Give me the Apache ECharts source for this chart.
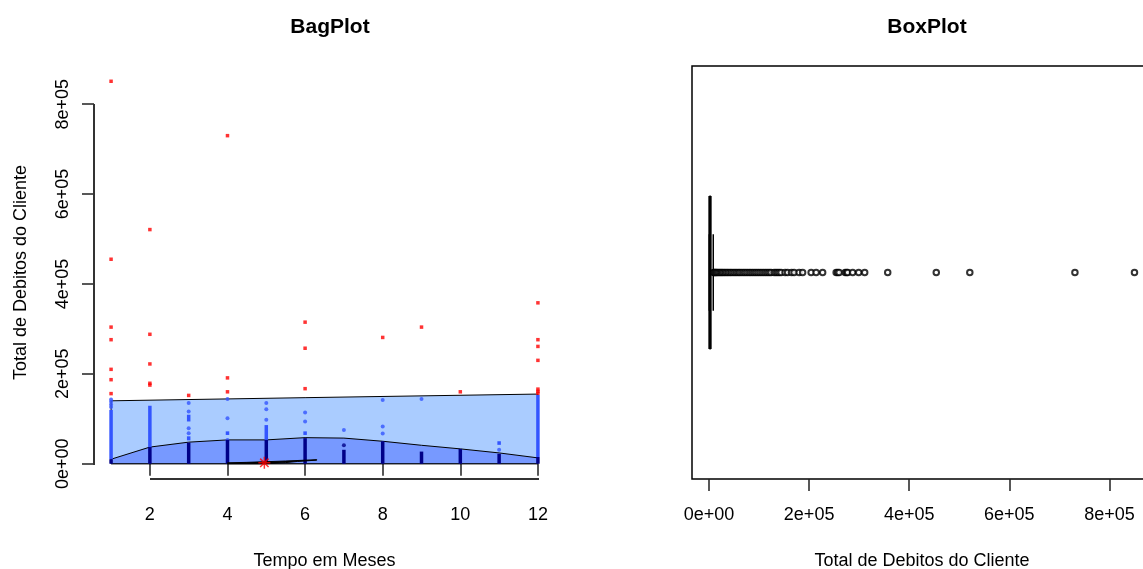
<!DOCTYPE html>
<html><head><meta charset="utf-8">
<script src="https://cdn.jsdelivr.net/npm/echarts@6/dist/echarts.min.js"></script>
<style>html,body{margin:0;padding:0;background:#fff}#c{width:1143px;height:569px}</style>
</head><body><div id="c"></div>
<script>
// ---------- data ----------
const monthTicks = [2, 4, 6, 8, 10, 12];
const debitTicks = [0, 200000, 400000, 600000, 800000];

// BagPlot: loop hull, bag hull (x = month, y = debit)
const loopHull = [[1, 0], [1, 140000], [6, 147000], [12, 155000], [12, 0]];
const bagHull = [[1, 0], [1, 10000], [2, 37000], [3, 48000], [4, 53000], [5, 53000], [6, 58000],
  [7, 57000], [8, 50000], [9, 41000], [10, 33000], [11, 24000], [12, 13000], [12, 0]];
const centerRegion = [[4, 0], [4, 2000], [4.5, 3000], [5.5, 6000], [6.3, 9000], [6.3, 8000],
  [5.8, 5000], [5.5, 2500], [5.0, 0]];
const medianPoint = [[4.95, 2000]];

// dense runs of points [month, from, to]
const loopRuns = [[1, 10000, 120000], [2, 37000, 129000], [3, 94000, 109000], [3, 52000, 61000],
  [4, 64000, 72000], [5, 53000, 86000], [6, 64000, 72000], [11, 42000, 50000], [12, 15000, 153000]];
const loopDots = [[1, 126000], [1, 132000], [1, 138000], [1, 143000], [3, 135000], [3, 116000],
  [3, 79000], [3, 68000], [4, 144000], [4, 101000], [4, 53000], [5, 135000], [5, 121000], [5, 98000],
  [6, 114000], [6, 94000], [7, 75000], [8, 142000], [8, 83000], [8, 67000], [9, 144000], [11, 31000]];
const bagRuns = [[1, 0, 10000], [2, 0, 37000], [3, 0, 47000], [4, 0, 53000], [5, 0, 53000],
  [6, 0, 57000], [7, 0, 31000], [8, 0, 50000], [9, 0, 27000], [10, 0, 33000], [11, 0, 22000], [12, 0, 15000]];
const bagDots = [[7, 41000]];
const outliersBag = [[1, 851000], [1, 455000], [1, 304000], [1, 276000], [1, 210000], [1, 187000], [1, 156000],
  [2, 521000], [2, 288000], [2, 222000], [2, 179000], [2, 175000], [3, 152000],
  [4, 730000], [4, 191000], [4, 160000], [6, 315000], [6, 257000], [6, 167000],
  [8, 281000], [9, 304000], [10, 160000],
  [12, 358000], [12, 276000], [12, 261000], [12, 230000], [12, 166000], [12, 161000], [12, 157000]];

// BoxPlot: [min, q1, median, q3, upper whisker]
const boxStats = [0, 600, 1800, 3800, 8500];
const boxOutliers = [9200, 10500, 12100, 13800, 15600, 17900, 20300, 22800, 25100, 27600, 30400, 33200,
  36100, 39000, 42300, 45200, 48800, 52100, 55400, 58900, 62000, 65700, 69300, 72800, 76400, 80100,
  83500, 87200, 91000, 94600, 98300, 102000, 105800, 109500, 113200, 117000, 120600, 124000,
  130000, 133500, 137000, 140500, 144000, 152000, 157000, 165000, 170000, 180000, 187000,
  204000, 214000, 227000, 254000, 257000, 260000, 272000, 275000, 277000, 287000, 299000, 311000,
  357000, 454000, 521000, 731000, 850000];

// ---------- chart ----------
const FONT = "'Liberation Sans', Arial, sans-serif";
const X0_MIN = 0.56, X0_MAX = 12.44, Y_MIN = -34000, Y_MAX = 885000;
const fmtSci = v => v === 0 ? '0e+00' : Math.round(v / 1e5) + 'e+05';
const axisTxt = { fontFamily: FONT, fontSize: 18, color: '#000' };

function polygonSeries(points, fill, z) {
  return {
    type: 'custom', xAxisIndex: 0, yAxisIndex: 0, z: z, silent: true, data: [points[0]],
    renderItem: (p, api) => ({
      type: 'polygon', shape: { points: points.map(pt => api.coord(pt)) },
      style: { fill: fill, stroke: '#000', lineWidth: 1 }
    })
  };
}
function runSeries(runs, color, z) {
  return {
    type: 'custom', xAxisIndex: 0, yAxisIndex: 0, z: z, silent: true, data: runs,
    renderItem: (p, api) => {
      const a = api.coord([api.value(0), api.value(1)]);
      const b = api.coord([api.value(0), api.value(2)]);
      return { type: 'line', shape: { x1: a[0], y1: a[1], x2: b[0], y2: b[1] },
        style: { stroke: color, lineWidth: 3.5 } };
    }
  };
}
function dotSeries(pts, color, z) {
  return { type: 'scatter', xAxisIndex: 0, yAxisIndex: 0, z: z, silent: true, data: pts,
    symbol: 'circle', symbolSize: 4, itemStyle: { color: color } };
}
// R-style axis lines spanning only the tick range, drawn as thin filled rects
const axisSegs = [
  [[monthTicks[0], Y_MIN], [monthTicks[monthTicks.length - 1], Y_MIN]],
  [[X0_MIN, debitTicks[0]], [X0_MIN, debitTicks[debitTicks.length - 1]]]
];
const axisLinesSeries = {
  type: 'custom', xAxisIndex: 0, yAxisIndex: 0, z: 20, silent: true, clip: false, data: [[2, 0]],
  renderItem: (p, api) => ({
    type: 'group',
    children: axisSegs.map(seg => {
      const a = api.coord(seg[0]), b = api.coord(seg[1]);
      const vertical = Math.abs(a[0] - b[0]) < 0.5;
      const x = Math.round(Math.min(a[0], b[0])) - (vertical ? 1 : 0);
      const y = Math.round(Math.min(a[1], b[1])) - (vertical ? 0 : 1);
      const w = vertical ? 2 : Math.round(Math.abs(b[0] - a[0])) + 1;
      const h = vertical ? Math.round(Math.abs(b[1] - a[1])) + 1 : 2;
      return { type: 'rect', shape: { x: x, y: y, width: w, height: h }, style: { fill: '#333' } };
    })
  })
};

const chart = echarts.init(document.getElementById('c'), null, { renderer: 'canvas' });
chart.setOption({
  animation: false,
  backgroundColor: '#fff',
  title: [
    { text: 'BagPlot', left: 325, top: 12, textAlign: 'center',
      textStyle: { fontFamily: FONT, fontSize: 21, fontWeight: 'bold', color: '#000' } },
    { text: 'BoxPlot', left: 922, top: 12, textAlign: 'center',
      textStyle: { fontFamily: FONT, fontSize: 21, fontWeight: 'bold', color: '#000' } }
  ],
  grid: [
    { left: 94, top: 66, width: 461, height: 413, show: false, outerBoundsMode: 'none', containLabel: false },
    { left: 692, top: 66, width: 460, height: 413, show: true, borderColor: '#000', borderWidth: 1.5,
      backgroundColor: 'transparent', outerBoundsMode: 'none', containLabel: false }
  ],
  xAxis: [
    { type: 'value', gridIndex: 0, min: X0_MIN, max: X0_MAX,
      name: 'Tempo em Meses', nameLocation: 'middle', nameGap: 73, nameTextStyle: axisTxt,
      axisLine: { show: false }, splitLine: { show: false },
      axisTick: { show: true, customValues: monthTicks, length: 12, lineStyle: { color: '#222', width: 1.5 } },
      axisLabel: { customValues: monthTicks, margin: 27, ...axisTxt } },
    { type: 'value', gridIndex: 1, min: Y_MIN, max: Y_MAX,
      name: 'Total de Debitos do Cliente', nameLocation: 'middle', nameGap: 73, nameTextStyle: axisTxt,
      axisLine: { show: false }, splitLine: { show: false },
      axisTick: { show: true, customValues: debitTicks, length: 12, lineStyle: { color: '#222', width: 1.5 } },
      axisLabel: { customValues: debitTicks, margin: 27, formatter: fmtSci, ...axisTxt } }
  ],
  yAxis: [
    { type: 'value', gridIndex: 0, min: Y_MIN, max: Y_MAX,
      name: 'Total de Debitos do Cliente', nameLocation: 'middle', nameGap: 64, nameTextStyle: axisTxt,
      axisLine: { show: false }, splitLine: { show: false },
      axisTick: { show: true, customValues: debitTicks, length: 12, lineStyle: { color: '#222', width: 1.5 } },
      axisLabel: { customValues: debitTicks, rotate: 90, margin: 22, formatter: fmtSci, ...axisTxt } },
    { type: 'value', gridIndex: 1, min: 0.46, max: 1.54, show: false }
  ],
  series: [
    axisLinesSeries,
    polygonSeries(loopHull, '#aaccff', 2),
    polygonSeries(bagHull, '#7799ff', 3),
    runSeries(loopRuns, '#3355ff', 4),
    dotSeries(loopDots, '#3355ff', 4),
    runSeries(bagRuns, '#000088', 5),
    dotSeries(bagDots, '#000088', 5),
    polygonSeries(centerRegion, '#000', 6),
    { type: 'scatter', xAxisIndex: 0, yAxisIndex: 0, z: 7, silent: true, data: outliersBag,
      symbol: 'rect', symbolSize: 3.5, itemStyle: { color: '#ff0000' } },
    { type: 'scatter', xAxisIndex: 0, yAxisIndex: 0, z: 8, silent: true, data: medianPoint,
      symbol: 'path://M0,-10L0,10M-10,0L10,0M-7,-7L7,7M-7,7L7,-7', symbolSize: 12,
      itemStyle: { color: 'none', borderColor: '#ff0000', borderWidth: 1.5 } },
    // boxplot
    { type: 'custom', xAxisIndex: 1, yAxisIndex: 1, z: 5, silent: true, data: [boxStats],
      renderItem: (p, api) => {
        const v = i => api.value(i);
        const c = (x, y) => api.coord([x, y]);
        const ln = (a, b, w, dash) => ({ type: 'line', shape: { x1: a[0], y1: a[1], x2: b[0], y2: b[1] },
          style: { stroke: '#000', lineWidth: w, lineDash: dash || null } });
        const tl = c(v(1), 1.2), br = c(v(3), 0.8);
        return { type: 'group', children: [
          ln(c(v(3), 1), c(v(4), 1), 1, [4, 3]),
          ln(c(v(1), 1), c(v(0), 1), 1, [4, 3]),
          ln(c(v(0), 0.9), c(v(0), 1.1), 1),
          ln(c(v(4), 0.9), c(v(4), 1.1), 1.5),
          { type: 'rect', shape: { x: tl[0], y: tl[1], width: br[0] - tl[0], height: br[1] - tl[1] },
            style: { fill: 'none', stroke: '#000', lineWidth: 1 } },
          ln(c(v(2), 0.8), c(v(2), 1.2), 3)
        ] };
      } },
    { type: 'scatter', xAxisIndex: 1, yAxisIndex: 1, z: 6, silent: true,
      data: boxOutliers.map(x => [x, 1]), symbol: 'emptyCircle', symbolSize: 5.5,
      itemStyle: { color: '#000', borderColor: '#000', borderWidth: 1.2 } }
  ]
});
</script></body></html>
